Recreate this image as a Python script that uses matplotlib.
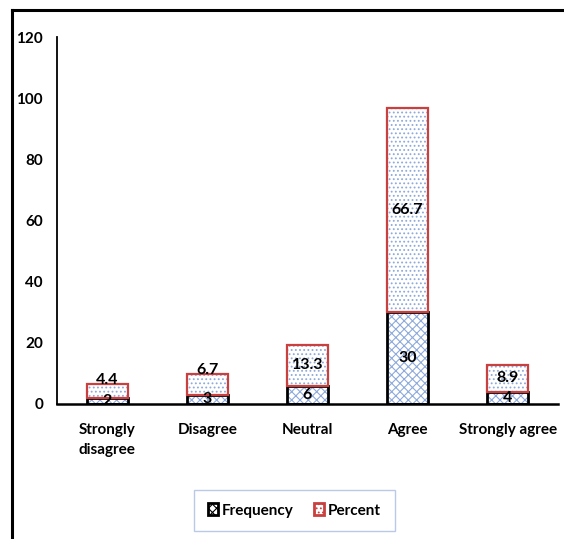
import matplotlib.pyplot as plt
from matplotlib.patches import Patch
from matplotlib.lines import Line2D
import numpy as np

plt.rcParams['font.family'] = ['Lato', 'DejaVu Sans']
plt.rcParams['font.weight'] = 'bold'
plt.rcParams['hatch.linewidth'] = 0.8

categories = ['Strongly\ndisagree', 'Disagree', 'Neutral', 'Agree', 'Strongly agree']
frequency = [2, 3, 6, 30, 4]
percent = [4.4, 6.7, 13.3, 66.7, 8.9]
yticks = [0, 20, 40, 60, 80, 100, 120]

fill_blue = '#8eaadb'
red = '#c9403f'

fig = plt.figure(figsize=(5.64, 5.39), dpi=100)
ax = fig.add_axes([0.101, 0.2505, 0.888, 0.6805])

x = np.arange(len(categories))
w = 0.41

# frequency: crosshatch fill, black outline
ax.bar(x, frequency, w, color='white', edgecolor=fill_blue, hatch='xxxx', linewidth=0, zorder=2)
ax.bar(x, frequency, w, fill=False, edgecolor='black', linewidth=2, zorder=3)
# percent stacked on top: dotted fill, red outline
ax.bar(x, percent, w, bottom=frequency, color='white', edgecolor=fill_blue, hatch='....', linewidth=0, zorder=2)
ax.bar(x, percent, w, bottom=frequency, fill=False, edgecolor=red, linewidth=1.6, zorder=3)

fs = 11
for i in range(len(categories)):
    f, p = frequency[i], percent[i]
    ax.text(x[i], f / 2, str(f), ha='center', va='center', fontsize=fs + 0.5, zorder=4)
    top = f + p
    # short segments: label sits on the top edge
    yp = f + p / 2 if p > 8 else top + 1.5
    ax.text(x[i], yp, str(p), ha='center', va='center', fontsize=fs + 0.5, zorder=4)

ax.set_xlim(-0.5, 4.5)
ax.set_ylim(0, 120)
ax.set_yticks(yticks)
ax.set_xticks(x)
ax.set_xticklabels(categories, fontsize=fs, linespacing=1.5)
ax.tick_params(axis='y', length=0, pad=10, labelsize=fs)
ax.tick_params(axis='x', length=0, pad=14)
for s in ['top', 'right']:
    ax.spines[s].set_visible(False)
ax.spines['left'].set_linewidth(1.3)
ax.spines['bottom'].set_linewidth(1.8)

handles = [Patch(facecolor='white', edgecolor='black', hatch='xxxx', linewidth=2, label='Frequency'),
           Patch(facecolor='white', edgecolor=red, hatch='....', linewidth=2, label='Percent')]
leg = fig.legend(handles=handles, loc='center', bbox_to_anchor=(0.522, 0.053), ncol=2,
                 fontsize=fs, frameon=True, fancybox=False, handlelength=0.7, handleheight=0.8,
                 handletextpad=0.25, columnspacing=1.3, borderpad=0.9)
leg.get_frame().set_edgecolor('#a9bde0')
leg.get_frame().set_linewidth(1)

# outer frame lines (top and left)
fig.add_artist(Line2D([0.021, 1.0], [0.981, 0.981], color='black', linewidth=2.2, transform=fig.transFigure))
fig.add_artist(Line2D([0.021, 0.021], [0.0, 0.981], color='black', linewidth=2.2, transform=fig.transFigure))

fig.savefig('out.png', dpi=100)
